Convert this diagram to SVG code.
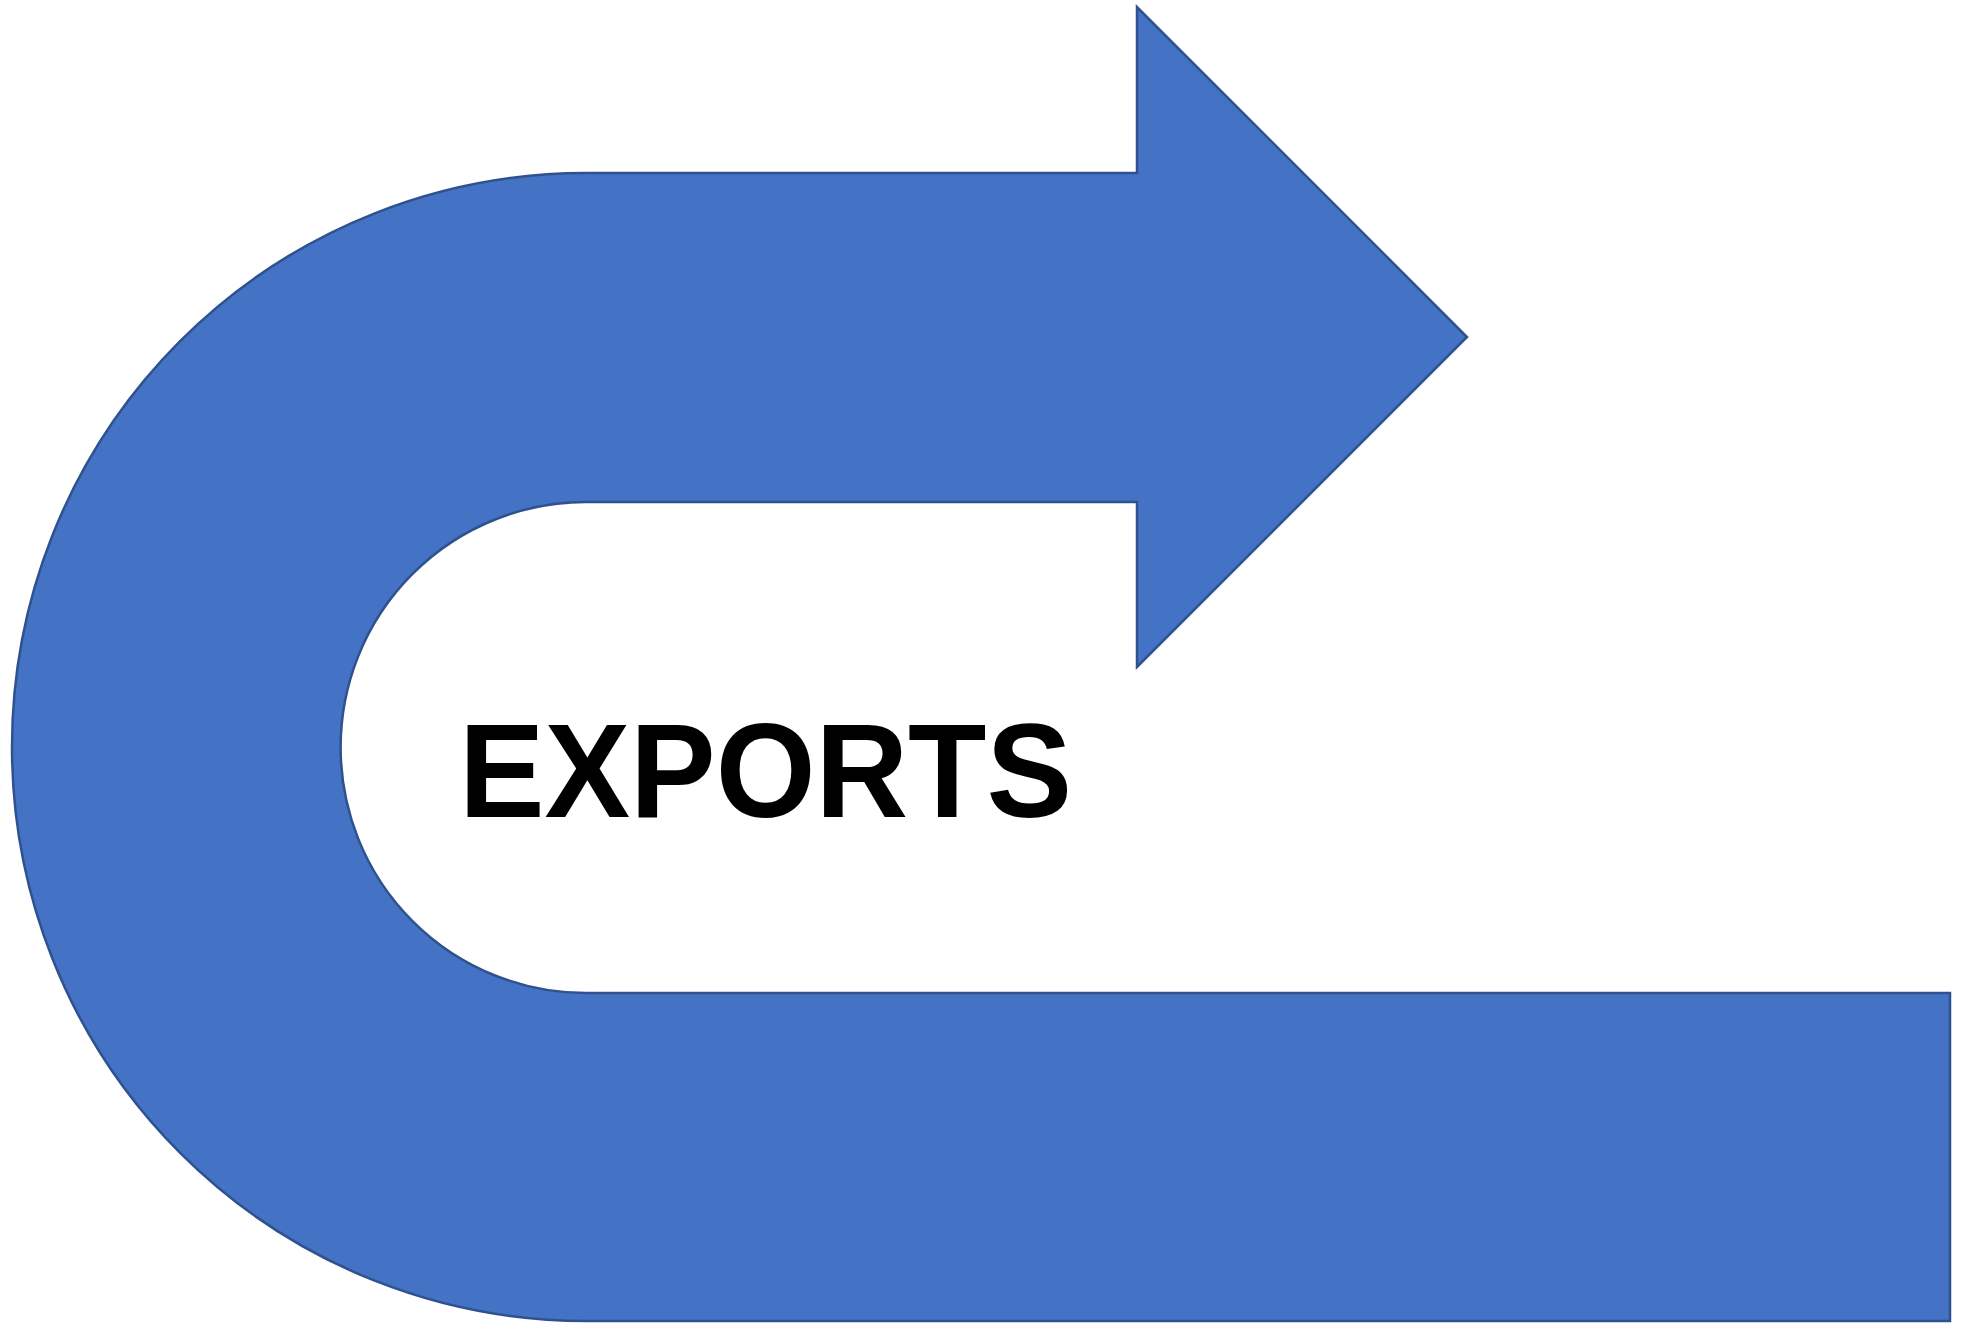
<svg xmlns="http://www.w3.org/2000/svg" width="1973" height="1324" viewBox="0 0 1973 1324">
<style>
.shape{fill:#4472C4;stroke:#2F528F;stroke-width:2.5;stroke-linejoin:miter}
.lbl{font-family:"Liberation Sans",Arial,sans-serif;font-weight:bold;font-size:133px;fill:#000}
</style>
<rect width="1973" height="1324" fill="#fff"/>
<g id="uturn-arrow">
<path class="shape" d="M 586,173 L 1137,173 L 1137,7 L 1467,337 L 1137,667 L 1137,502 L 586,502 A 245.5,245.5 0 0 0 586,993 L 1950,993 L 1950,1321 L 586,1321 A 574,574 0 0 1 586,173 Z"/>
</g>
<g id="label">
<text class="lbl" x="459" y="817" textLength="613" lengthAdjust="spacingAndGlyphs">EXPORTS</text>
</g>
<g id="connectors"/>
</svg>
